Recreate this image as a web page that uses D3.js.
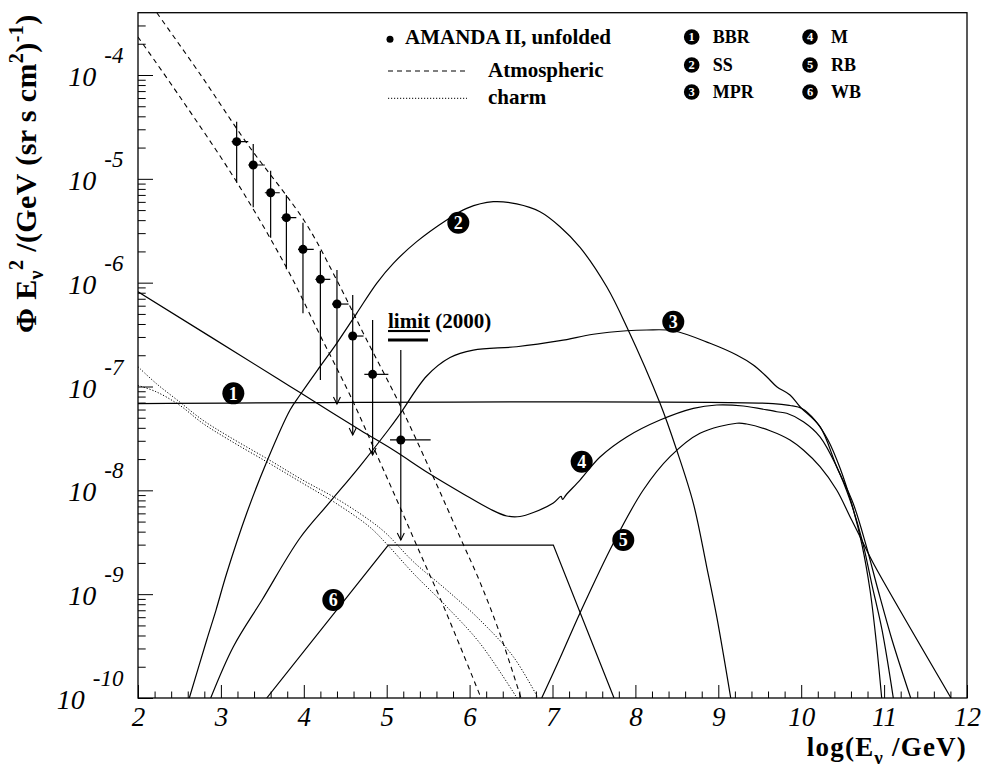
<!DOCTYPE html>
<html>
<head>
<meta charset="utf-8">
<script src="https://cdn.jsdelivr.net/npm/d3@7"></script>
<style>
body { margin: 0; background: #fff; }
text { font-family: "Liberation Serif", "Times New Roman", serif; }
</style>
</head>
<body>
<svg id="chart" width="986" height="770"></svg>
<script>
// all points are [log10(E/GeV), log10(Phi E^2)]

// AMANDA II unfolded spectrum
const amandaLogE  = [3.19, 3.39, 3.60, 3.79, 3.99, 4.20, 4.40, 4.59, 4.83, 5.17];
const amandaFlux  = [-4.642, -4.867, -5.134, -5.374, -5.679, -5.968, -6.206, -6.514, -6.883, -7.515];
const amandaUp    = [-4.450, -4.665, -4.922, -5.156, -5.423, -5.692, -5.878, -6.119, -6.360, -6.649];
const amandaDown  = [-5.037, -5.274, -5.567, -5.871, -6.295, -6.937, -7.169, -7.467, -7.660, -8.478];
const amandaBinLo = [3.13, 3.33, 3.53, 3.73, 3.93, 4.14, 4.34, 4.54, 4.73, 5.04];
const amandaBinHi = [3.33, 3.53, 3.71, 3.91, 4.12, 4.32, 4.54, 4.72, 5.02, 5.53];
const amandaArrow = [false, false, false, false, false, false, true, true, true, true];

// atmospheric band (dashed) and charm band (dotted)
const atmLow = [[2.000,-3.634],[2.507,-4.212],[3.191,-5.031],[3.794,-5.859],[4.195,-6.504],[4.557,-7.082],
  [4.919,-7.727],[5.160,-8.161],[5.402,-8.604],[5.643,-9.037],[5.884,-9.499],[6.138,-10.0]];
const atmHigh = [[2.229,-3.403],[2.748,-3.990],[3.311,-4.655],[4.015,-5.416],[4.397,-5.974],[4.759,-6.552],
  [5.160,-7.178],[5.562,-7.872],[5.884,-8.450],[6.125,-8.883],[6.367,-9.384],[6.620,-10.0]];
const charmHigh = [[2.000,-6.810],[2.217,-6.969],[2.498,-7.146],[2.780,-7.323],[3.101,-7.484],[3.584,-7.708],
  [3.987,-7.901],[4.389,-8.077],[4.790,-8.286],[4.992,-8.414],[5.321,-8.687],[5.724,-8.960],[6.125,-9.249],
  [6.527,-9.602],[6.825,-10.0]];
const charmLow = [[2.000,-6.990],[2.217,-7.050],[2.498,-7.178],[2.780,-7.354],[3.101,-7.515],[3.584,-7.740],
  [3.987,-7.932],[4.389,-8.125],[4.790,-8.350],[4.992,-8.510],[5.321,-8.799],[5.724,-9.121],[6.125,-9.473],
  [6.572,-10.0]];

// model predictions 1..6
const bbr = [[2.0,-7.164],[9.660,-7.164],[9.865,-7.183],[10.008,-7.212],[10.165,-7.323],[10.323,-7.515],
  [10.468,-7.785],[10.613,-8.141],[10.734,-8.527],[10.830,-8.960],[10.903,-9.441],[10.971,-10.0]];
const ss = [[2.619,-10.0],[2.829,-9.441],[2.941,-9.153],[3.070,-8.799],[3.311,-8.221],[3.553,-7.724],
  [3.834,-7.226],[3.954,-7.082],[4.195,-6.809],[4.397,-6.584],[4.638,-6.295],[4.879,-6.006],[5.080,-5.814],
  [5.362,-5.605],[5.724,-5.396],[5.965,-5.284],[6.286,-5.220],[6.568,-5.242],[6.849,-5.317],[7.091,-5.461],
  [7.332,-5.660],[7.654,-6.040],[7.895,-6.424],[8.297,-7.162],[8.498,-7.612],[8.699,-8.125],[8.860,-8.736],
  [8.981,-9.217],[9.150,-10.0]];
const mpr = [[2.877,-10.0],[3.150,-9.506],[3.496,-9.056],[3.954,-8.459],[4.316,-8.112],[4.678,-7.766],
  [5.019,-7.419],[5.160,-7.265],[5.483,-6.899],[5.764,-6.721],[6.045,-6.649],[6.568,-6.617],[7.091,-6.559],
  [7.492,-6.497],[7.895,-6.463],[8.136,-6.456],[8.457,-6.463],[8.900,-6.584],[9.222,-6.697],[9.422,-6.793],
  [9.584,-6.906],[9.705,-7.002],[9.865,-7.082],[9.986,-7.195],[10.227,-7.387],[10.428,-7.772],[10.625,-8.122],
  [10.782,-8.527],[10.927,-8.960],[11.096,-9.441],[11.321,-10.0]];
const mann = [[2.0,-6.087],[3.673,-6.918],[3.954,-7.058],[4.678,-7.419],[5.080,-7.612],[5.522,-7.843],
  [5.924,-8.035],[6.246,-8.180],[6.448,-8.247],[6.608,-8.252],[6.769,-8.214],[7.010,-8.122],[7.103,-8.059],
  [7.121,-8.088],[7.163,-8.045],[7.332,-7.901],[7.573,-7.679],[7.895,-7.486],[8.297,-7.323],[8.699,-7.210],
  [8.981,-7.178],[9.302,-7.188],[9.705,-7.243],[9.825,-7.258],[10.026,-7.339],[10.227,-7.484],[10.428,-7.772],
  [10.589,-8.093],[10.734,-8.478],[10.854,-8.912],[10.975,-9.345],[11.111,-10.0]];
const rb = [[6.870,-10.0],[7.091,-9.615],[7.332,-9.181],[7.734,-8.510],[8.095,-7.997],[8.418,-7.676],
  [8.779,-7.451],[9.222,-7.354],[9.343,-7.361],[9.624,-7.426],[9.865,-7.515],[10.026,-7.612],[10.227,-7.772],
  [10.428,-7.997],[10.589,-8.254],[10.749,-8.510],[10.870,-8.703],[11.807,-10.0]];
const wb = [[3.553,-10.0],[5.019,-8.527],[7.010,-8.527],[7.742,-10.0]];

const limit2000 = [[5.016,-6.552],[5.498,-6.552]];

const modelNames = ["BBR", "SS", "MPR", "M", "RB", "WB"];
const modelLabelAt = [[3.150,-7.066],[5.864,-5.423],[8.457,-6.376],[7.352,-7.724],[7.854,-8.478],[4.356,-9.056]];

const xTicks = d3.range(2, 13);
const xTickLabels = ["2","3","4","5","6","7","8","9","10","11","12"];
const yTickExps = [-10, -9, -8, -7, -6, -5, -4];

const svg = d3.select("#chart");
const frame = { left: 138, right: 967, top: 12.7, bottom: 698 };

const x = d3.scaleLinear().domain([2, 12]).range([frame.left, frame.right]);
const y = d3.scaleLog().domain([1e-10, Math.pow(10, -3.4)]).range([frame.bottom, frame.top]);
const fy = v => y(Math.pow(10, v));

svg.append("rect").attr("width", 986).attr("height", 770).attr("fill", "#fff");

svg.append("clipPath").attr("id", "plot")
  .append("rect")
  .attr("x", frame.left).attr("y", frame.top)
  .attr("width", frame.right - frame.left).attr("height", frame.bottom - frame.top);

// axes: ticks point into the frame
const fontFam = "Liberation Serif, Times New Roman, serif";

svg.append("g")
  .attr("transform", `translate(0,${frame.bottom})`)
  .call(d3.axisBottom(x).tickValues(xTicks).tickSize(-13).tickSizeOuter(0).tickPadding(9)
    .tickFormat((d, i) => xTickLabels[i]))
  .call(g => g.select(".domain").remove())
  .attr("font-family", fontFam).attr("font-size", 27).attr("font-style", "italic");

svg.append("g")
  .attr("transform", `translate(0,${frame.bottom})`)
  .call(d3.axisBottom(x).tickValues(d3.range(2, 12.001, 0.2).filter(v => Math.abs(v - Math.round(v)) > 0.01))
    .tickSize(-6.5).tickSizeOuter(0).tickFormat(""))
  .call(g => g.select(".domain").remove());

svg.append("g")
  .attr("transform", `translate(${frame.left},0)`)
  .call(d3.axisLeft(y).tickValues(yTickExps.map(e => Math.pow(10, e))).tickSize(-15).tickSizeOuter(0).tickFormat(""))
  .call(g => g.select(".domain").remove());

const yMinor = [];
yTickExps.forEach(e => {
  for (let k = 2; k <= 9; k++) {
    const v = k * Math.pow(10, e);
    if (v < Math.pow(10, -3.4)) yMinor.push(v);
  }
});
svg.append("g")
  .attr("transform", `translate(${frame.left},0)`)
  .call(d3.axisLeft(y).tickValues(yMinor).tickSize(-7.7).tickSizeOuter(0).tickFormat(""))
  .call(g => g.select(".domain").remove());

// y tick labels 10^n
yTickExps.forEach(e => {
  const t = svg.append("text")
    .attr("x", 123.5).attr("y", fy(e) + 11)
    .attr("text-anchor", "end").attr("font-style", "italic").attr("font-size", 28);
  t.append("tspan").text("10");
  t.append("tspan").attr("dx", 8).attr("dy", -23).attr("font-size", 23).text(String(e));
});

// frame
svg.append("rect")
  .attr("x", frame.left).attr("y", frame.top)
  .attr("width", frame.right - frame.left).attr("height", frame.bottom - frame.top)
  .attr("fill", "none").attr("stroke", "#000").attr("stroke-width", 1.3);

const plot = svg.append("g").attr("clip-path", "url(#plot)");

const smooth = d3.line().x(d => x(d[0])).y(d => fy(d[1])).curve(d3.curveCatmullRom.alpha(0.5));
const straight = d3.line().x(d => x(d[0])).y(d => fy(d[1]));

[atmLow, atmHigh].forEach(c => {
  plot.append("path").attr("d", smooth(c))
    .attr("fill", "none").attr("stroke", "#000").attr("stroke-width", 1.1).attr("stroke-dasharray", "5,4");
});
[charmHigh, charmLow].forEach(c => {
  plot.append("path").attr("d", smooth(c))
    .attr("fill", "none").attr("stroke", "#000").attr("stroke-width", 1).attr("stroke-dasharray", "1.2,1.8");
});
[bbr, ss, mpr, mann, rb].forEach(c => {
  plot.append("path").attr("d", smooth(c))
    .attr("fill", "none").attr("stroke", "#000").attr("stroke-width", 1.2);
});
plot.append("path").attr("d", straight(wb))
  .attr("fill", "none").attr("stroke", "#000").attr("stroke-width", 1.2);

// limit (2000)
plot.append("path").attr("d", straight(limit2000))
  .attr("fill", "none").attr("stroke", "#000").attr("stroke-width", 3);
const lim = svg.append("text")
  .attr("x", x(limit2000[0][0])).attr("y", fy(limit2000[0][1]) - 12)
  .attr("font-weight", "bold").attr("font-size", 21);
lim.append("tspan").style("text-decoration", "underline").text("limit");
lim.append("tspan").text(" (2000)");

// AMANDA points
amandaLogE.forEach((e, i) => {
  const cx = x(e), cy = fy(amandaFlux[i]);
  plot.append("line")
    .attr("x1", cx).attr("x2", cx).attr("y1", fy(amandaUp[i])).attr("y2", fy(amandaDown[i]))
    .attr("stroke", "#000").attr("stroke-width", 1.2);
  plot.append("line")
    .attr("x1", x(amandaBinLo[i])).attr("x2", x(amandaBinHi[i])).attr("y1", cy).attr("y2", cy)
    .attr("stroke", "#000").attr("stroke-width", 1.2);
  if (amandaArrow[i]) {
    const yb = fy(amandaDown[i]);
    plot.append("path")
      .attr("d", `M${cx - 3.5},${yb - 7}L${cx},${yb}L${cx + 3.5},${yb - 7}`)
      .attr("fill", "none").attr("stroke", "#000").attr("stroke-width", 1.1);
  }
  plot.append("circle").attr("cx", cx).attr("cy", cy).attr("r", 4.5).attr("fill", "#000");
});

function badge(cx, cy, r, n, fs) {
  svg.append("circle").attr("cx", cx).attr("cy", cy).attr("r", r).attr("fill", "#000");
  svg.append("text").attr("x", cx).attr("y", cy).attr("dy", "0.35em")
    .attr("text-anchor", "middle").attr("font-weight", "bold").attr("font-size", fs)
    .attr("fill", "#fff").text(n);
}

modelLabelAt.forEach((p, i) => badge(x(p[0]), fy(p[1]), 11, i + 1, 18));

// legend, left block
svg.append("circle").attr("cx", 390).attr("cy", 39.3).attr("r", 3.5).attr("fill", "#000");
svg.append("text").attr("x", 405).attr("y", 44).attr("font-weight", "bold").attr("font-size", 21)
  .text("AMANDA II, unfolded");
svg.append("line").attr("x1", 388).attr("x2", 467).attr("y1", 71).attr("y2", 71)
  .attr("stroke", "#000").attr("stroke-width", 1.1).attr("stroke-dasharray", "5,4");
svg.append("text").attr("x", 488).attr("y", 76.7).attr("font-weight", "bold").attr("font-size", 21)
  .text("Atmospheric");
svg.append("line").attr("x1", 388).attr("x2", 467).attr("y1", 98.3).attr("y2", 98.3)
  .attr("stroke", "#000").attr("stroke-width", 1).attr("stroke-dasharray", "1.2,1.8");
svg.append("text").attr("x", 488).attr("y", 104).attr("font-weight", "bold").attr("font-size", 21)
  .text("charm");

// legend, model names
const rowY = [37, 65, 92];
modelNames.forEach((name, i) => {
  const col = i < 3 ? 0 : 1, row = i % 3;
  const cx = col === 0 ? 691.7 : 810;
  badge(cx, rowY[row], 7.8, i + 1, 12.5);
  svg.append("text").attr("x", cx + 21).attr("y", rowY[row] + 6)
    .attr("font-weight", "bold").attr("font-size", 18).text(name);
});

// axis titles
const xt = svg.append("text").attr("x", 967).attr("y", 756)
  .attr("text-anchor", "end").attr("font-weight", "bold").attr("font-size", 27)
  .attr("letter-spacing", 1.2);
xt.append("tspan").text("log(E");
xt.append("tspan").attr("dy", 8).attr("font-size", 19).text("ν");
xt.append("tspan").attr("dy", -8).text(" /GeV)");

const yt = svg.append("text").attr("transform", "translate(36,333) rotate(-90)")
  .attr("font-weight", "bold").attr("font-size", 30).attr("letter-spacing", 0.4);
yt.append("tspan").text("Φ E");
yt.append("tspan").attr("dy", 7).attr("font-size", 20).text("ν");
yt.append("tspan").attr("dy", -20).attr("font-size", 20).text("2");
yt.append("tspan").attr("dy", 13).text(" /(GeV (sr s cm");
yt.append("tspan").attr("dy", -13).attr("font-size", 20).text("2");
yt.append("tspan").attr("dy", 13).text(")");
yt.append("tspan").attr("dy", -13).attr("font-size", 20).text("-1");
yt.append("tspan").attr("dy", 13).text(")");
</script>
</body>
</html>
